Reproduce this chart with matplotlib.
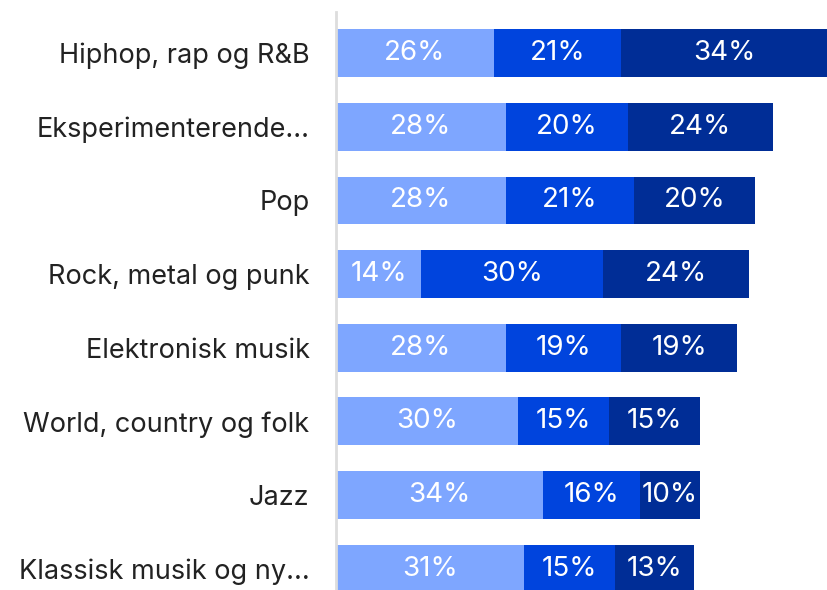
import matplotlib.pyplot as plt

categories = [
    "Hiphop, rap og R&B",
    "Eksperimenterende...",
    "Pop",
    "Rock, metal og punk",
    "Elektronisk musik",
    "World, country og folk",
    "Jazz",
    "Klassisk musik og ny...",
]
part1 = [26, 28, 28, 14, 28, 30, 34, 31]
part2 = [21, 20, 21, 30, 19, 15, 16, 15]
part3 = [34, 24, 20, 24, 19, 15, 10, 13]

colors = ["#7EA6FF", "#0044DD", "#002D96"]

plt.rcParams["font.family"] = ["Inter", "DejaVu Sans"]

fig = plt.figure(figsize=(8.28, 5.90), dpi=100)
ax = fig.add_axes([336 / 828, 0, 1 - 336 / 828, 578 / 590])

y = list(range(len(categories)))
left = [0] * len(categories)
for vals, col in zip([part1, part2, part3], colors):
    bars = ax.barh(y, vals, left=left, height=0.65, color=col)
    for b, v in zip(bars, vals):
        ax.text(b.get_x() + b.get_width() / 2, b.get_y() + b.get_height() / 2,
                f"{v}%", ha="center", va="center", color="white", fontsize=20)
    left = [l + v for l, v in zip(left, vals)]

ax.set_xlim(0, 81)
ax.set_ylim(7.29, -0.56)
ax.set_yticks(y)
ax.set_yticklabels(categories, fontsize=19.5, color="#222222")
ax.tick_params(axis="y", length=0, pad=19)
ax.set_xticks([])
for s in ["top", "right", "bottom"]:
    ax.spines[s].set_visible(False)
ax.spines["left"].set_color("#DDDDDD")
ax.spines["left"].set_linewidth(2)

fig.savefig("out.png", dpi=100)
